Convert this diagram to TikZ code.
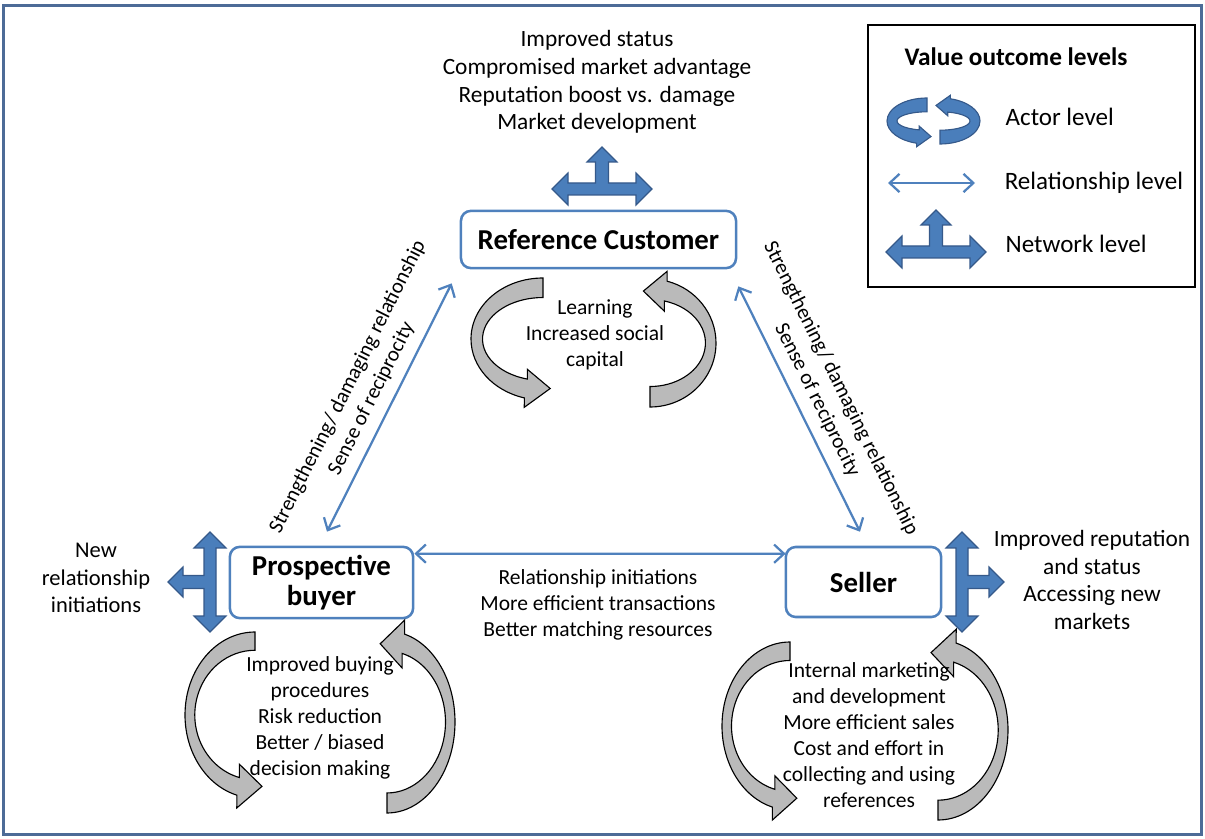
\documentclass[tikz,border=0pt]{standalone}
\usepackage{fontspec}
\setmainfont{Carlito}
\usepackage{xcolor}
\usetikzlibrary{arrows.meta,positioning,calc}

\definecolor{boxblue}{HTML}{4F81BD}
\definecolor{netblue}{HTML}{4A7EBB}
\definecolor{netedge}{HTML}{35598A}
\definecolor{framegrey}{HTML}{4D6B97}

\tikzset{
  % curved actor arrow on a unit half ellipse: tail on top, head at the bottom pointing right
  pics/actorarc/.style n args={2}{code={
    \pgfmathsetmacro\arcix{#1*cos(105)}
    \pgfmathsetmacro\arciy{#2*sin(105)}
    \pgfmathsetmacro\arcmy{(sin(105)+\arciy)/2}
    \path[pic actions] (0,-1) arc[start angle=-90,end angle=-255,x radius=1,y radius=1]
      -- (-0.26,1.12) -- (0.1,\arcmy) -- (\arcix,\arciy-0.16) -- (\arcix,\arciy)
      arc[start angle=105,end angle=270,x radius=#1,y radius=#2] -- cycle;
  }},
  % block arrow: left/right double arrow with a branch going up
  pics/netarrow/.style={code={
    \path[pic actions] (-50,0) -- (-34,-16) -- (-34,-6) -- (-6.5,-6) -- (-6.5,-27)
      -- (-15,-27) -- (0,-42) -- (15,-27) -- (6.5,-27) -- (6.5,-6) -- (34,-6)
      -- (34,-16) -- (50,0) -- (34,16) -- (34,6) -- (-34,6) -- (-34,16) -- cycle;
  }}
}

\begin{document}
\begin{tikzpicture}[x=0.025cm,y=-0.025cm,
  txt/.style={align=center,font=\fontsize{15.3}{18.4}\selectfont,inner sep=1pt},
  wide/.style={txt,font=\fontsize{16.6}{19.8}\selectfont},
  legtxt/.style={txt,anchor=west,font=\fontsize{17.8}{20}\selectfont},
  party/.style={draw=boxblue,line width=1.8pt,rounded corners=7pt,fill=white,align=center,font=\fontsize{20.5}{21.5}\selectfont\bfseries},
  rel/.style={{Straight Barb[length=7pt,width=13pt]}-{Straight Barb[length=7pt,width=13pt]},draw=boxblue,line width=1.6pt},
  greyarc/.style={draw=black,fill=black!27,line width=0.8pt},
  bluearc/.style={draw=netedge,fill=netblue,line width=0.8pt},
  net/.style={draw=netedge,fill=netblue,line width=0.8pt}]
\useasboundingbox (0,0) rectangle (1205,839);
\draw[framegrey,line width=2pt] (3.5,5.5) rectangle (1201.5,834.5);

% the three parties
\node[party,minimum width=6.875cm,minimum height=1.43cm] (rc) at (598.5,239.5) {Reference Customer};
\node[party,minimum width=4.58cm,minimum height=1.78cm] (pb) at (321.5,582.5) {Prospective\\buyer};
\node[party,minimum width=3.88cm,minimum height=1.75cm] (seller) at (863.5,582) {Seller};

% actor level loops
\pic[greyarc,xscale=72,yscale=61] at (543,339) {actorarc={0.84}{0.68}};
\pic[greyarc,rotate=180,xscale=66,yscale=64] at (650,343) {actorarc={0.84}{0.68}};
\pic[greyarc,xscale=70,yscale=83] at (255,715) {actorarc={0.86}{0.78}};
\pic[greyarc,rotate=180,xscale=68,yscale=91] at (387,722) {actorarc={0.86}{0.78}};
\pic[greyarc,xscale=68,yscale=84] at (790,726) {actorarc={0.86}{0.78}};
\pic[greyarc,rotate=180,xscale=70,yscale=90] at (938,730) {actorarc={0.86}{0.78}};

% network level arrows
\pic[net] at (602,189) {netarrow};
\pic[net,rotate=90] at (210,582) {netarrow};
\pic[net,rotate=-90] at (962,582) {netarrow};

% relationship level
\draw[rel] ($(pb.north)+(5.5,-14)$) -- node[sloped,above=6pt,txt,font=\fontsize{15}{18.8}\selectfont] {Strengthening/ damaging relationship\\Sense of reciprocity} ($(rc.south west)+(-8,14)$);
\draw[rel] ($(rc.south east)+(1,17)$) -- node[sloped,above=6pt,txt,font=\fontsize{15}{18.8}\selectfont] {Strengthening/ damaging relationship\\Sense of reciprocity} ($(seller.north)+(-3.5,-14)$);
\draw[rel] ($(pb.north east)+(0,8)$) -- ($(seller.north west)+(1,8)$);

% outcomes
\node[wide] (rcnet) at (597,82) {Improved status\\Compromised market advantage\\Reputation boost vs. damage\\Market development};
\node[txt] (rcactor) at (595,335) {Learning\\Increased social\\capital};
\node[wide,font=\fontsize{16}{19.8}\selectfont] (pbnet) at (96,578) {New\\relationship\\initiations};
\node[txt] (pbactor) at (320,718) {Improved buying\\procedures\\Risk reduction\\Better / biased\\decision making};
\node[wide] (sellernet) at (1092,580) {Improved reputation\\and status\\Accessing new\\markets};
\node[txt] (selleractor) at (869,735) {Internal marketing\\and development\\More efficient sales\\Cost and effort in\\collecting and using\\references};
\node[txt] (dyad) at (598,605) {Relationship initiations\\More efficient transactions\\Better matching resources};

% legend
\draw[line width=2pt] (868,25) rectangle (1195,287);
\node[font=\fontsize{18}{20}\selectfont\bfseries] (legtitle) at (1016,57) {Value outcome levels};
\pic[bluearc,xscale=40,yscale=23] at (927,121) {actorarc={0.75}{0.4}};
\pic[bluearc,rotate=180,xscale=40,yscale=23] at (940,121) {actorarc={0.75}{0.4}};
\node[legtxt] (lactor) at (1004,117) {Actor level};
\coordinate (relA) at (888,183);
\coordinate (relB) at (975,183);
\draw[rel] (relA) -- (relB);
\node[legtxt,right=20pt of relB] (lrel) {Relationship level};
\pic[net] at (936,252) {netarrow};
\node[legtxt] (lnet) at (1004,244) {Network level};
\end{tikzpicture}
\end{document}
